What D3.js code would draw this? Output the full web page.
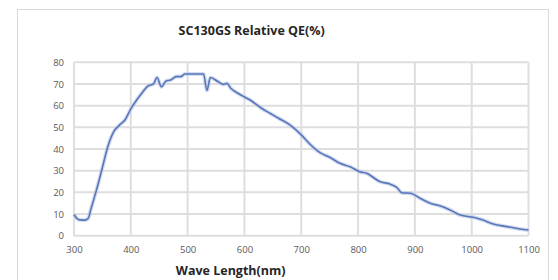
<!DOCTYPE html>
<html>
<head>
<meta charset="utf-8">
<script src="https://cdn.jsdelivr.net/npm/d3@7"></script>
<style>
  body { margin: 0; background: #fff; }
  text { font-family: "Open Sans", "DejaVu Sans", sans-serif; }
</style>
</head>
<body>
<div id="chart"></div>
<script>
// wave length (nm) and relative QE (%)
const waveLength = [300, 305, 310, 320, 325, 330, 340, 350, 360, 370, 380, 390, 400, 410, 420, 430, 440, 446, 454, 462,
  470, 480, 488, 495, 510, 528, 534, 540, 554, 563, 569, 576, 590, 600, 610, 630, 645, 660, 680, 700,
  715, 733, 750, 768, 786, 803, 815, 838, 856, 868, 877, 892, 909, 927, 944, 962, 980, 1003, 1020, 1038,
  1062, 1085, 1100];
const qe = [9.8, 8, 7.3, 7.2, 8, 12.5, 21.5, 31.5, 41.5, 48, 51, 53.5, 58.5, 62.5, 66, 69, 70, 73, 68.7, 71.4,
  71.8, 73.4, 73.4, 74.6, 74.6, 74.6, 67, 73, 71, 69.8, 70.3, 68, 65.5, 64, 62.6, 58.8, 56.5, 54.2, 51.1, 46.5,
  42.3, 38.3, 36.2, 33.4, 31.8, 29.5, 28.8, 25, 23.8, 22.3, 19.8, 19.6, 17.3, 15, 13.8, 11.9, 9.5, 8.5, 7.2, 5.4,
  4.2, 3.1, 2.6];
const xTicks = [300, 400, 500, 600, 700, 800, 900, 1000, 1100];
const yTicks = [0, 10, 20, 30, 40, 50, 60, 70, 80];

const width = 558, height = 280;
const data = waveLength.map((w, i) => ({ w: w, v: qe[i] }));

const x = d3.scaleLinear().domain([300, 1100]).range([74, 528.5]);
const y = d3.scaleLinear().domain([0, 80]).range([235.7, 62.3]);

const svg = d3.select('#chart')
  .append('svg')
  .attr('width', width)
  .attr('height', height);

// outer chart frame
svg.append('rect')
  .attr('x', 17.5).attr('y', 9.5)
  .attr('width', 531).attr('height', 290)
  .attr('fill', '#fff')
  .attr('stroke', '#d9d9d9');

// grid (a little soft and wide, like the blurred source image)
const grid = svg.append('g')
  .attr('stroke', '#dedede')
  .attr('stroke-width', 2);

grid.selectAll('line.h')
  .data(yTicks)
  .enter()
  .append('line')
  .attr('class', 'h')
  .attr('x1', x(300)).attr('x2', x(1100))
  .attr('y1', (d) => y(d)).attr('y2', (d) => y(d));

grid.selectAll('line.v')
  .data(xTicks)
  .enter()
  .append('line')
  .attr('class', 'v')
  .attr('x1', (d) => x(d)).attr('x2', (d) => x(d))
  .attr('y1', y(0)).attr('y2', y(80));

// axes (labels only, Excel style)
const xAxis = svg.append('g')
  .attr('transform', `translate(0,${y(0)})`)
  .call(d3.axisBottom(x).tickValues(xTicks).tickFormat(d3.format('d')).tickSize(0).tickPadding(11));
const yAxis = svg.append('g')
  .attr('transform', `translate(${x(300) - 10},0)`)
  .call(d3.axisLeft(y).tickValues(yTicks).tickSize(0).tickPadding(0));

[xAxis, yAxis].forEach((g) => {
  g.select('.domain').remove();
  g.selectAll('text')
    .attr('fill', '#595959')
    .style('font-size', '9.5px')
    .style('font-family', '"Open Sans", "DejaVu Sans", sans-serif');
});

// QE curve
const line = d3.line()
  .x((d) => x(d.w))
  .y((d) => y(d.v))
  .curve(d3.curveMonotoneX);

svg.append('path')
  .datum(data)
  .attr('d', line)
  .attr('fill', 'none')
  .attr('stroke', '#b7c5e6')
  .attr('stroke-opacity', 0.6)
  .attr('stroke-width', 4)
  .attr('stroke-linejoin', 'round');

svg.append('path')
  .datum(data)
  .attr('d', line)
  .attr('fill', 'none')
  .attr('stroke', '#5876ba')
  .attr('stroke-width', 1.6)
  .attr('stroke-linejoin', 'round');

// titles
svg.append('text')
  .attr('x', 251.7)
  .attr('y', 35)
  .attr('text-anchor', 'middle')
  .attr('fill', '#262626')
  .style('font-size', '12.5px')
  .style('font-weight', 'bold')
  .text('SC130GS Relative QE(%)');

svg.append('text')
  .attr('x', 230.7)
  .attr('y', 275)
  .attr('text-anchor', 'middle')
  .attr('fill', '#262626')
  .style('font-size', '12.5px')
  .style('font-weight', 'bold')
  .text('Wave Length(nm)');
</script>
</body>
</html>
